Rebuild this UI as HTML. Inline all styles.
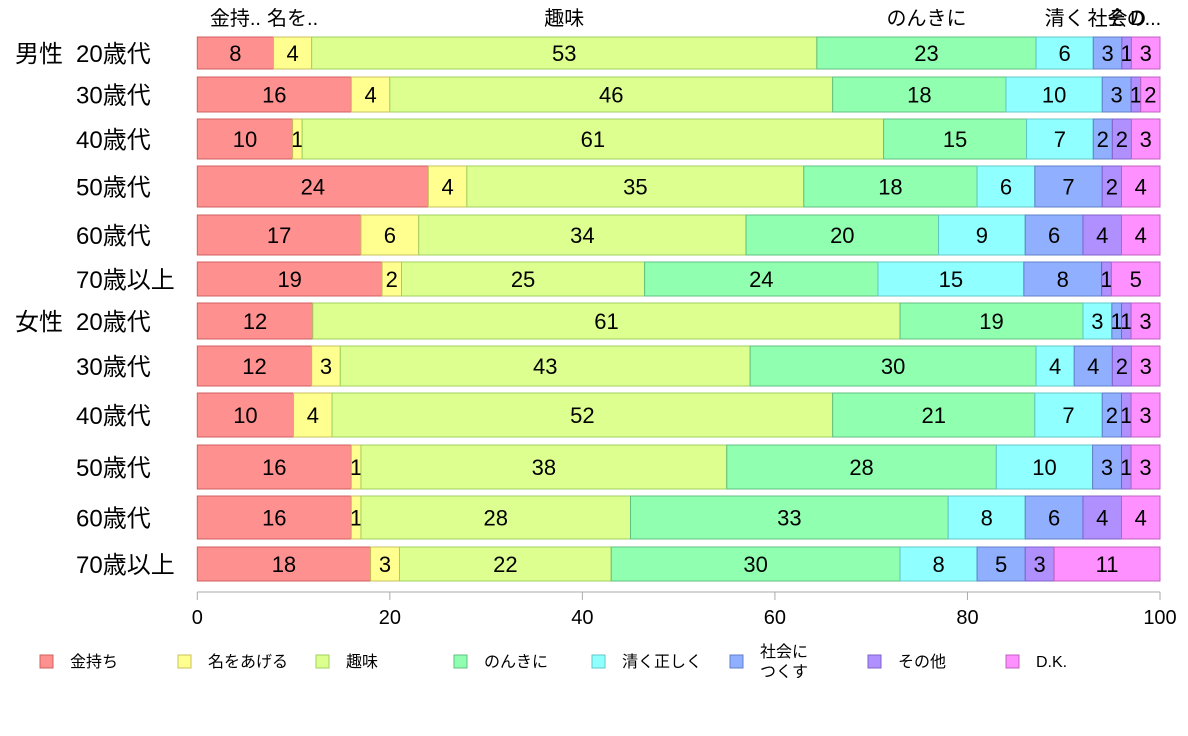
<!DOCTYPE html>
<html><head><meta charset="utf-8">
<style>
body{margin:0;background:#fff;}
svg{display:block;font-family:"Liberation Sans","Noto Sans CJK JP",sans-serif;}
</style></head>
<body>
<svg id="chart" width="1188" height="736"></svg>
<script>
const categories = ["金持ち","名をあげる","趣味","のんきに","清く正しく","社会につくす","その他","D.K."];
const topLabels = ["金持..","名を..","趣味","のんきに","清く","社会","その","D..."];
const genderLabels = ["男性","","","","","","女性","","","","",""];
const rowLabels = ["20歳代","30歳代","40歳代","50歳代","60歳代","70歳以上","20歳代","30歳代","40歳代","50歳代","60歳代","70歳以上"];
const s_kanemochi = [8,16,10,24,17,19,12,12,10,16,16,18];
const s_na = [4,4,1,4,6,2,0,3,4,1,1,3];
const s_shumi = [53,46,61,35,34,25,61,43,52,38,28,22];
const s_nonki = [23,18,15,18,20,24,19,30,21,28,33,30];
const s_kiyoku = [6,10,7,6,9,15,3,4,7,10,8,8];
const s_shakai = [3,3,2,7,6,8,1,4,2,3,6,5];
const s_sonota = [1,1,2,2,4,1,1,2,1,1,4,3];
const s_dk = [3,2,3,4,4,5,3,3,3,3,4,11];
const xTicks = [0,20,40,60,80,100];
// layout (pixel) of each row band
const rowTop = [37,77,119,166,215,262,303,346,393,445,496,547];
const rowBottom = [69,112,159,207,255,296,339,386,437,489,539,581];
const fills = ["#FF9090","#FFFF90","#DDFF90","#90FFB0","#90FFFF","#90B0FF","#B090FF","#FF90FF"];
const strokes = ["#D06060","#C8C060","#A0D060","#60C080","#60C8C8","#6080C8","#8060C8","#C060C0"];

const series=[s_kanemochi,s_na,s_shumi,s_nonki,s_kiyoku,s_shakai,s_sonota,s_dk];
const NS="http://www.w3.org/2000/svg";
const svg=document.getElementById("chart");
const x0=197.3,x1=1160;
const xs=v=>x0+(x1-x0)*v/100;
function mk(t,a,p){const e=document.createElementNS(NS,t);for(const k in a)e.setAttribute(k,a[k]);(p||svg).appendChild(e);return e;}

rowLabels.forEach((lab,i)=>{
  const total=series.reduce((s,a)=>s+a[i],0);
  let acc=0;
  const cy=(rowTop[i]+rowBottom[i])/2;
  const g=mk("g",{});
  
  
  series.forEach((arr,j)=>{
    const v=arr[i];
    const a=xs(acc/total*100), b=xs((acc+v)/total*100);
    acc+=v;
    if(v<=0)return;
    const r=mk("rect",{x:a,y:rowTop[i],width:b-a,height:rowBottom[i]-rowTop[i],fill:fills[j],stroke:strokes[j],"stroke-width":1},g);
    
    
    const t=mk("text",{x:(a+b)/2,y:cy+8,"text-anchor":"middle","font-size":22,fill:"#000"},g);
    
    
    t.textContent=v;
    if(i===0){
      const tl=mk("text",{x:(a+b)/2,y:25,"text-anchor":"middle","font-size":20,fill:"#000"});
      
      
      tl.textContent=topLabels[j];
    }
  });
  const l=mk("text",{x:76,y:cy+9,"font-size":24,fill:"#000"});
  
  
  l.textContent=lab;
  if(genderLabels[i]){
    const gl=mk("text",{x:15,y:cy+9,"font-size":24,fill:"#000"});
    
    
    gl.textContent=genderLabels[i];
  }
});
// x axis
const ax=mk("line",{x1:x0,x2:x1,y1:592,y2:592,stroke:"#aaa"});


xTicks.forEach(v=>{
  const tk=mk("line",{x1:xs(v),x2:xs(v),y1:592,y2:600,stroke:"#aaa"});
  
  
  const t=mk("text",{x:xs(v),y:624,"text-anchor":"middle","font-size":20,fill:"#000"});
  
  
  t.textContent=v;
});
// legend
categories.forEach((c,j)=>{
  const lx=40+j*138;
  const g=mk("g",{});
  
  
  mk("rect",{x:lx,y:655,width:13,height:13,fill:fills[j],stroke:strokes[j]},g);
  if(c==="社会につくす"){
    const t1=mk("text",{x:lx+30,y:657,"font-size":16,fill:"#000"},g);t1.textContent="社会に";
    const t2=mk("text",{x:lx+30,y:677,"font-size":16,fill:"#000"},g);t2.textContent="つくす";
  } else {
    const t=mk("text",{x:lx+30,y:667,"font-size":16,fill:"#000"},g);t.textContent=c;
  }
});
</script>
</body></html>
